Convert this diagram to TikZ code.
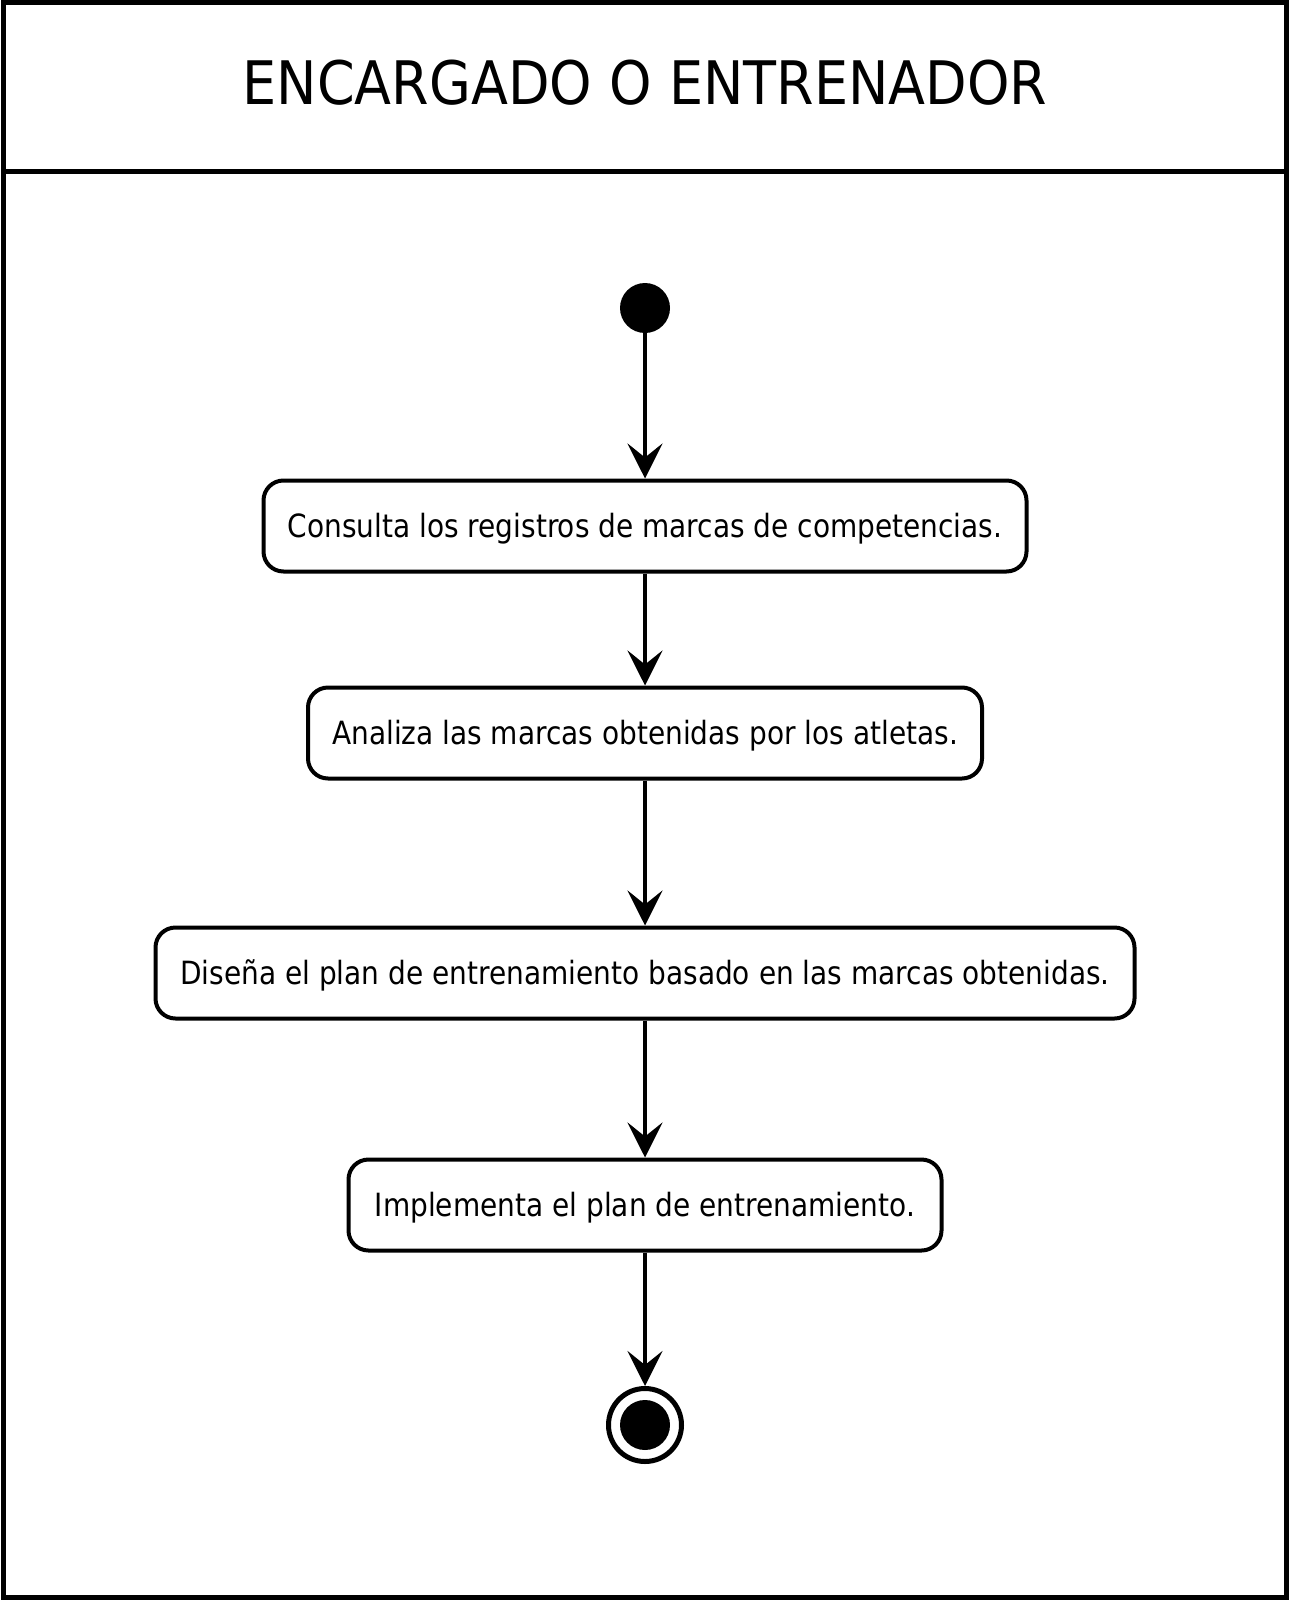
\documentclass[tikz,border=0pt]{standalone}
\usepackage{fontspec}
\setmainfont{DejaVu Sans}
\newfontfamily\bodyfont[FakeStretch=0.875]{DejaVu Sans}
\newfontfamily\titlefont[FakeStretch=0.9]{DejaVu Sans}
\usetikzlibrary{arrows.meta}
\begin{document}
\begin{tikzpicture}[x=0.5pt,y=-0.5pt,
  act/.style={draw, line width=2pt, rounded corners=10pt, minimum height=45.5pt,
    inner sep=0pt, text height=13.8pt, text depth=2pt,
    font=\bodyfont\fontsize{16}{18}\selectfont},
  flow/.style={line width=2pt, -{Stealth[length=17.5pt,width=17.5pt,inset=7pt]}},
  frameline/.style={line width=2.5pt}]
\useasboundingbox (0,0) rectangle (1290,1600);
\draw[frameline] (3,3) rectangle (1286,1597);
\draw[frameline] (3,171) -- (1286,171);
\node (title) at (645,83) {\titlefont\fontsize{30}{36}\selectfont ENCARGADO O ENTRENADOR};
\node[circle, fill, inner sep=0pt, minimum size=25pt] (start) at (645,308) {};
\node[act, minimum width=381.5pt] (a1) at (645,526) {Consulta los registros de marcas de competencias.};
\node[act, minimum width=337pt] (a2) at (645,733) {Analiza las marcas obtenidas por los atletas.};
\node[act, minimum width=489.5pt] (a3) at (645,973) {Diseña el plan de entrenamiento basado en las marcas obtenidas.};
\node[act, minimum width=296.5pt] (a4) at (645,1205) {Implementa el plan de entrenamiento.};
\node[circle, draw, line width=2.5pt, inner sep=0pt, minimum size=36.5pt] (end) at (645,1425) {};
\fill (end.center) circle (12.5pt);
\draw[flow] (start) -- (a1);
\draw[flow] (a1) -- (a2);
\draw[flow] (a2) -- (a3);
\draw[flow] (a3) -- (a4);
\draw[flow] (a4) -- (end);
\end{tikzpicture}
\end{document}
